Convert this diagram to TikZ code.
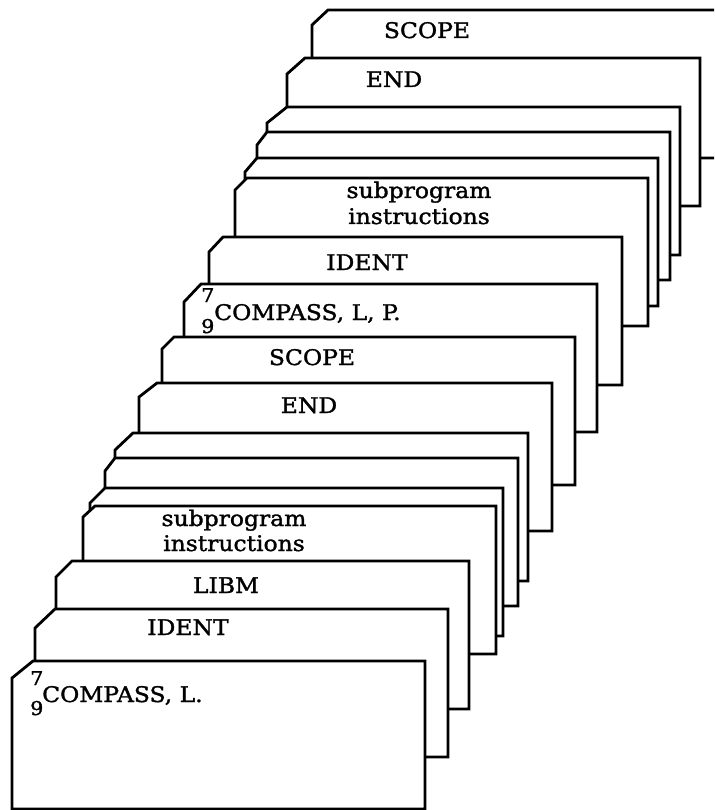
\documentclass[tikz,border=0pt]{standalone}
\usepackage{fontspec}
\setmainfont{DejaVu Serif}[FakeStretch=1.09,FakeBold=1.5]
\begin{document}
\begin{tikzpicture}[x=1pt,y=-1pt,
  card/.style={draw=black,fill=white,line width=2.8pt},
  lbl/.style={font=\fontsize{21.5}{24}\selectfont,inner sep=0pt,anchor=base},
  lblw/.style={lbl,anchor=base west},
  punch/.style={font=\fontsize{19}{22}\selectfont,inner sep=0pt,anchor=base west}]
\useasboundingbox (0,0) rectangle (714,810);
\clip (0,0) rectangle (714,810);
% one punched card: left, top, corner cut width, corner cut height
\newcommand\deckcard[4]{%
  \draw[card] (#1,#2+#4) -- (#1+#3,#2) -- (#1+413,#2) -- (#1+413,#2+148)
    -- (#1,#2+148) -- cycle;}
% second deck (back)
\deckcard{312}{10}{16}{15}
\deckcard{287}{58}{18}{16}
\deckcard{267}{107}{20}{16}
\deckcard{257}{132}{10}{13}
\deckcard{245}{158}{12}{14}
\deckcard{235}{178}{12}{12}
\deckcard{209}{237}{14}{15}
\deckcard{184}{284}{17}{18}
% first deck (front)
\deckcard{162}{337}{12}{12}
\deckcard{139}{383}{18}{14}
\deckcard{115}{433}{18}{17}
\deckcard{105}{458}{10}{13}
\deckcard{90}{488}{15}{15}
\deckcard{83}{506}{12}{11}
\deckcard{56}{561}{16}{16}
\deckcard{35}{609}{20}{19}
\deckcard{12}{661}{21}{17}
% labels
\node[lbl] (scopeB) at (427,38) {SCOPE};
\node[lbl] (endB) at (394,87) {END};
\node[lbl] (subB1) at (419,198) {subprogram};
\node[lbl] (subB2) at (419,224) {instructions};
\node[lbl] (identB) at (367,270) {IDENT};
\node[punch] (sevenB) at (201,302) {7};
\node[punch] (nineB) at (201,333) {9};
\node[lblw] (compB) at (214,320) {COMPASS, L, P.};
\node[lbl] (scopeA) at (312,365) {SCOPE};
\node[lbl] (endA) at (309,413) {END};
\node[lbl] (subA1) at (234,526) {subprogram};
\node[lbl] (subA2) at (234,551) {instructions};
\node[lbl] (libm) at (226,593) {LIBM};
\node[lbl] (identA) at (188,635) {IDENT};
\node[punch] (sevenA) at (30,685) {7};
\node[punch] (nineA) at (30,715) {9};
\node[lblw] (compA) at (42,702) {COMPASS, L.};
\end{tikzpicture}
\end{document}
